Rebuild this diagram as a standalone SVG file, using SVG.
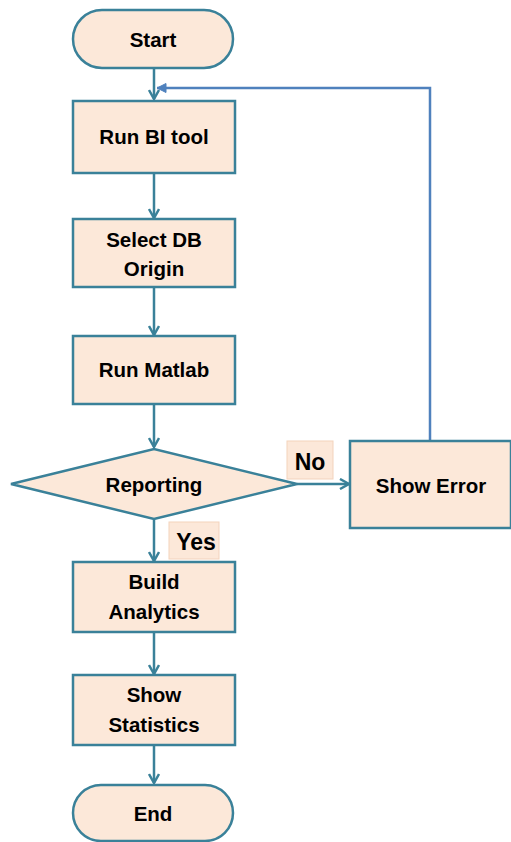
<svg xmlns="http://www.w3.org/2000/svg" width="511" height="842" viewBox="0 0 511 842">
<style>
.n{fill:#FCE8D9;stroke:#3A8199;stroke-width:2.5}
.t{font-family:"Liberation Sans",Arial,sans-serif;font-weight:bold;font-size:20.5px;fill:#000;text-anchor:middle}
.l{font-size:23px}
.c{fill:none;stroke:#3A8199;stroke-width:2.5}
.b{fill:none;stroke:#4F81BD;stroke-width:2.5}
.lb{fill:#FCE8D9;stroke:#F3D3BC;stroke-width:1}
</style>
<defs>
<marker id="a" markerWidth="12" markerHeight="12" refX="10" refY="6" orient="auto" markerUnits="userSpaceOnUse">
<path d="M1,1 L10,6 L1,11" fill="none" stroke="#3A8199" stroke-width="2.5"/>
</marker>
<marker id="ab" markerWidth="12" markerHeight="12" refX="10" refY="6" orient="auto" markerUnits="userSpaceOnUse">
<path d="M1,1.5 L10,6 L1,10.5 Z" fill="#4F81BD" stroke="#4F81BD" stroke-width="1"/>
</marker>
</defs>
<g id="connectors">
<line class="c" x1="154" y1="68" x2="154" y2="99" marker-end="url(#a)"/>
<line class="c" x1="154" y1="173" x2="154" y2="218" marker-end="url(#a)"/>
<line class="c" x1="154" y1="287" x2="154" y2="335" marker-end="url(#a)"/>
<line class="c" x1="154" y1="404" x2="154" y2="447" marker-end="url(#a)"/>
<line class="c" x1="297" y1="484" x2="349" y2="484" marker-end="url(#a)"/>
<line class="c" x1="154" y1="520" x2="154" y2="561" marker-end="url(#a)"/>
<line class="c" x1="154" y1="632" x2="154" y2="674" marker-end="url(#a)"/>
<line class="c" x1="154" y1="745" x2="154" y2="783" marker-end="url(#a)"/>
<polyline class="b" points="430,440 430,88 157,88" marker-end="url(#ab)"/>
</g>
<g id="start"><rect class="n" x="73" y="10" width="160" height="58" rx="29"/><text class="t" x="153" y="47">Start</text></g>
<g id="runbi"><rect class="n" x="73" y="101" width="162" height="72"/><text class="t" x="154" y="144">Run BI tool</text></g>
<g id="selectdb"><rect class="n" x="73" y="219" width="162" height="68"/><text class="t" x="154" y="247">Select DB</text><text class="t" x="154" y="276">Origin</text></g>
<g id="runmatlab"><rect class="n" x="73" y="336" width="162" height="68"/><text class="t" x="154" y="377">Run Matlab</text></g>
<g id="reporting"><polygon class="n" points="11,484 154,449 297,484 154,519"/><text class="t" x="154" y="492">Reporting</text></g>
<g id="showerror"><rect class="n" x="350" y="441" width="161" height="87"/><text class="t" x="431" y="493">Show Error</text></g>
<g id="labelno"><rect class="lb" x="287" y="441" width="46" height="38"/><text class="t l" x="310" y="470">No</text></g>
<g id="labelyes"><rect class="lb" x="169" y="522" width="50" height="37"/><text class="t l" x="196" y="550">Yes</text></g>
<g id="build"><rect class="n" x="73" y="562" width="162" height="70"/><text class="t" x="154" y="589">Build</text><text class="t" x="154" y="619">Analytics</text></g>
<g id="stats"><rect class="n" x="73" y="675" width="162" height="70"/><text class="t" x="154" y="702">Show</text><text class="t" x="154" y="732">Statistics</text></g>
<g id="end"><rect class="n" x="73" y="785" width="160" height="56" rx="28"/><text class="t" x="153" y="821">End</text></g>
</svg>
